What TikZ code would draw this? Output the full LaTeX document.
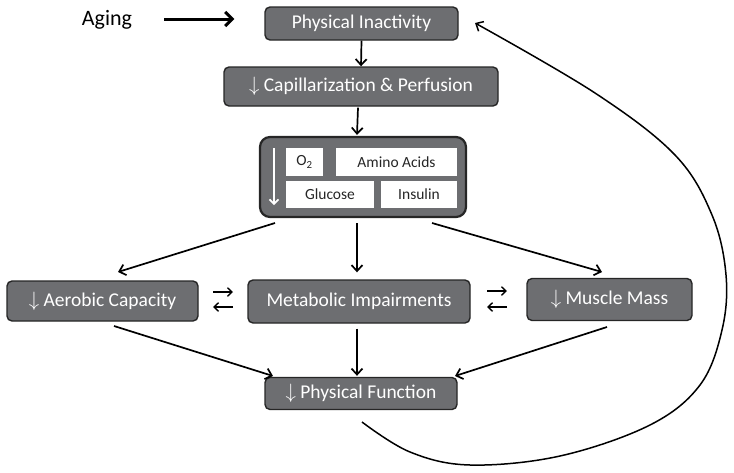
\documentclass[tikz,border=0pt]{standalone}
\usepackage{fontspec}
\setmainfont{Carlito}
\usetikzlibrary{arrows.meta,calc}
\definecolor{boxfill}{HTML}{6D6E71}
\definecolor{boxline}{HTML}{262626}
\begin{document}
\begin{tikzpicture}[x=1pt,y=-1pt,
  box/.style={draw=boxline,fill=boxfill,line width=1.4pt,rounded corners=5pt,text=white,
    font=\fontsize{19.5}{22}\selectfont,inner sep=0pt},
  wbox/.style={fill=white,inner sep=0pt,font=\fontsize{15.5}{18}\selectfont,text=black!85},
  arr/.style={line width=1.7pt,-{Straight Barb[length=6pt,width=11pt]}},
  eq/.style={line width=1.4pt,-{Straight Barb[length=4.5pt,width=8.5pt]}},
]
\useasboundingbox (0,0) rectangle (734,472);
% main boxes
\node[box,minimum width=193pt,minimum height=33pt] (pi) at (361.5,23.5) {Physical Inactivity};
\node[box,minimum width=274pt,minimum height=39pt] (cap) at (361,86.5) {$\downarrow$ Capillarization \& Perfusion};
\node[draw=boxline,fill=boxfill,line width=2.2pt,rounded corners=10pt,minimum width=206pt,minimum height=80pt] (mid) at (363,177) {};
\node[wbox,minimum width=37pt,minimum height=28pt] (o2) at (304.5,162) {O\textsubscript{2}};
\node[wbox,minimum width=121pt,minimum height=28pt] (amino) at (396.5,162) {Amino Acids};
\node[wbox,minimum width=88pt,minimum height=27pt] (glu) at (330,194.5) {Glucose};
\node[wbox,minimum width=76pt,minimum height=27pt] (ins) at (419,194.5) {Insulin};
\draw[white,line width=1.6pt,-{Straight Barb[length=4.5pt,width=9pt]}] (274,148) -- (274,205);
\node[box,minimum width=191pt,minimum height=40pt] (aer) at (102.5,301) {$\downarrow$ Aerobic Capacity};
\node[box,minimum width=222pt,minimum height=43pt] (met) at (359,301.5) {Metabolic Impairments};
\node[box,minimum width=165pt,minimum height=42pt] (mus) at (609.5,299.5) {$\downarrow$ Muscle Mass};
\node[box,minimum width=192pt,minimum height=32pt] (pf) at (361,393.5) {$\downarrow$ Physical Function};
\node[font=\fontsize{22}{26}\selectfont,inner sep=0pt] (aging) at (107,20) {Aging};
% connectors
\draw[line width=3pt,-{Straight Barb[length=7pt,width=14pt]},shorten >=30pt] ($(aging.east)+(32,-1)$) -- (pi.west|-0,19);
\draw[arr] (pi.south) -- (cap.north);
\draw[arr] ($(cap.south)+(-3,1)$) -- ($(mid.north)+(-6,-1)$);
\coordinate (m1) at (275,223);
\coordinate (m3) at (432,223);
\draw[arr] (m1) -- (118,272);
\draw[arr] ($(mid.south)+(-6,5)$) -- ($(met.north)+(-2,-7)$);
\draw[arr] (m3) -- (602,272);
\coordinate (a1) at (114,326);
\coordinate (u1) at (607,327);
\draw[arr] (a1) -- (273,376);
\draw[arr] ($(met.south)+(-2,5)$) -- ($(pf.north)+(-4,-1)$);
\draw[arr] (u1) -- (455,376);
% equilibrium arrows
\draw[eq] (213,292) -- (233,292);
\draw[eq] (233,307) -- (213,307);
\draw[eq] (487,291) -- (507,291);
\draw[eq] (507,307) -- (487,307);
% feedback curve
\draw[line width=1.5pt,-{Straight Barb[length=6pt,width=11pt]}] plot[smooth,tension=0.6] coordinates
 {(362,422) (410,452) (470,465) (560,456) (650,425) (700,385) (722,330) (726,275) (712,215) (675,155) (595,93) (475,23)};
\end{tikzpicture}
\end{document}
